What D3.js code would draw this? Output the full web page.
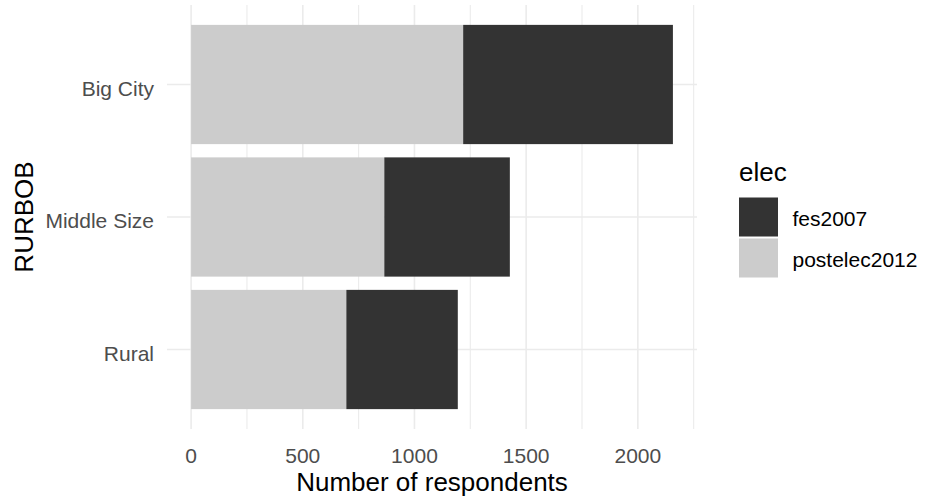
<!DOCTYPE html>
<html>
<head>
<meta charset="utf-8">
<script src="https://cdn.jsdelivr.net/npm/d3@7"></script>
<style>
  body { margin: 0; background: #fff; }
  text { font-family: "Liberation Sans", Arial, sans-serif; }
</style>
</head>
<body>
<div id="chart"></div>
<script>
// data
var categories = ["Big City", "Middle Size", "Rural"];
var postelec2012 = [1218, 865, 695];
var fes2007 = [939, 562, 499];
var seriesKeys = ["postelec2012", "fes2007"];   // stacking order, left to right
var legendKeys = ["fes2007", "postelec2012"];
var xTicks = [0, 500, 1000, 1500, 2000];
var xMinor = [250, 750, 1250, 1750, 2250];

var colours = { fes2007: "#333333", postelec2012: "#CCCCCC" };

var rows = categories.map(function (c, i) {
  return { cat: c, postelec2012: postelec2012[i], fes2007: fes2007[i] };
});

var W = 935, H = 498;
var panel = { left: 167, right: 697, top: 5, bottom: 429 };

svg = d3.select('#chart').append('svg')
  .attr('width', W)
  .attr('height', H);

svg.append('rect')
  .attr('width', W)
  .attr('height', H)
  .attr('fill', 'white');

var maxTotal = d3.max(rows, function (d) { return d.postelec2012 + d.fes2007; });
var pad = maxTotal * 0.05;   // ggplot style 5% expansion

var x = d3.scaleLinear()
  .domain([-pad, maxTotal + pad])
  .range([panel.left, panel.right]);

var y = d3.scaleBand()
  .domain(categories)
  .range([panel.top, panel.bottom])
  .paddingInner(0.1)
  .paddingOuter(0.15);

// minor grid
svg.append('g').selectAll('line.minor')
  .data(xMinor)
  .enter().append('line')
  .attr('class', 'minor')
  .style('stroke', '#EBEBEB')
  .style('stroke-width', 1.1)
  .attr('x1', function (d) { return x(d); })
  .attr('x2', function (d) { return x(d); })
  .attr('y1', panel.top)
  .attr('y2', panel.bottom);

// major grid, vertical
svg.append('g').selectAll('line.major')
  .data(xTicks)
  .enter().append('line')
  .attr('class', 'major')
  .style('stroke', '#EBEBEB')
  .style('stroke-width', 1.6)
  .attr('x1', function (d) { return x(d); })
  .attr('x2', function (d) { return x(d); })
  .attr('y1', panel.top)
  .attr('y2', panel.bottom);

// major grid, horizontal
svg.append('g').selectAll('line.hgrid')
  .data(categories)
  .enter().append('line')
  .style('stroke', '#EBEBEB')
  .style('stroke-width', 1.6)
  .attr('x1', panel.left)
  .attr('x2', panel.right)
  .attr('y1', function (d) { return y(d) + y.bandwidth() / 2; })
  .attr('y2', function (d) { return y(d) + y.bandwidth() / 2; });

// stacked bars
var stacked = d3.stack().keys(seriesKeys)(rows);

svg.append('g').selectAll('g.series')
  .data(stacked)
  .enter().append('g')
  .attr('fill', function (s) { return colours[s.key]; })
  .selectAll('rect')
  .data(function (s) { return s; })
  .enter().append('rect')
  .attr('x', function (d) { return x(d[0]); })
  .attr('width', function (d) { return x(d[1]) - x(d[0]); })
  .attr('y', function (d) { return y(d.data.cat); })
  .attr('height', y.bandwidth());

// x tick labels
svg.append('g').selectAll('text')
  .data(xTicks)
  .enter().append('text')
  .attr('x', function (d) { return x(d); })
  .attr('y', 462.5)
  .attr('text-anchor', 'middle')
  .style('font-size', '21px')
  .style('fill', '#4D4D4D')
  .text(function (d) { return d; });

// y tick labels
svg.append('g').selectAll('text')
  .data(categories)
  .enter().append('text')
  .attr('x', 154)
  .attr('y', function (d) { return y(d) + y.bandwidth() / 2 + 11; })
  .attr('text-anchor', 'end')
  .style('font-size', '21px')
  .style('fill', '#4D4D4D')
  .text(function (d) { return d; });

// axis titles
svg.append('text')
  .attr('x', (panel.left + panel.right) / 2)
  .attr('y', 490.5)
  .attr('text-anchor', 'middle')
  .style('font-size', '26px')
  .style('fill', '#000')
  .text('Number of respondents');

svg.append('text')
  .attr('transform', 'translate(33,' + (panel.top + panel.bottom) / 2 + ') rotate(-90)')
  .attr('text-anchor', 'middle')
  .style('font-size', '26px')
  .style('fill', '#000')
  .text('RURBOB');

// legend
var legend = svg.append('g').attr('transform', 'translate(738,0)');

legend.append('text')
  .attr('x', 1)
  .attr('y', 181)
  .style('font-size', '26px')
  .style('fill', '#000')
  .text('elec');

var item = legend.selectAll('g.item')
  .data(legendKeys)
  .enter().append('g')
  .attr('class', 'item')
  .attr('transform', function (d, i) { return 'translate(0,' + (196.5 + i * 41) + ')'; });

item.append('rect')
  .attr('x', 1)
  .attr('y', 1)
  .attr('width', 39)
  .attr('height', 39)
  .attr('fill', function (d) { return colours[d]; });

item.append('text')
  .attr('x', 54.5)
  .attr('y', 29)
  .style('font-size', '21px')
  .style('fill', '#000')
  .text(function (d) { return d; });
</script>
</body>
</html>
